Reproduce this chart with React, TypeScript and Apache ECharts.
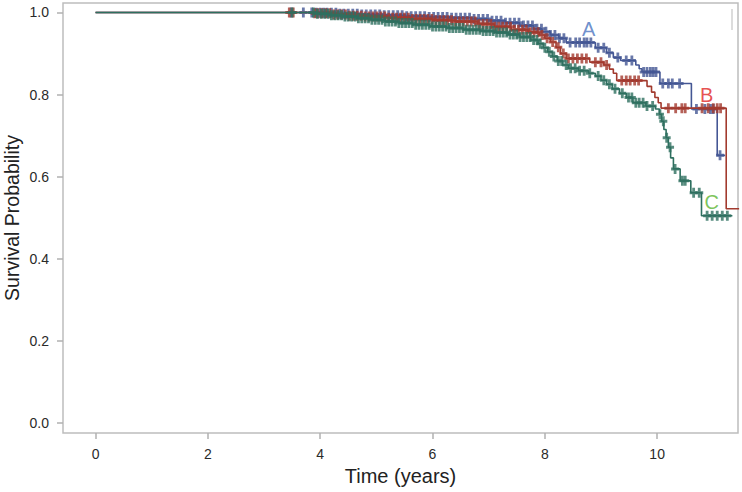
import React, { useEffect, useRef } from "react";
import * as echarts from "echarts";

const timeTicks = [0, 2, 4, 6, 8, 10];
const probTicks = [0, 0.2, 0.4, 0.6, 0.8, 1.0];

const groupNames = ["A", "B", "C"];
const lineColors = ["#445694", "#A23A2E", "#2E6F5F"];
const labelColors = ["#4A74C0", "#E02424", "#5CB531"];

// [time, survival after event]
const eventsA: [number, number][] = [
  [0, 1], [3.9, 0.999], [4.3, 0.997], [4.7, 0.995], [5.1, 0.993], [5.5, 0.991], [5.9, 0.989],
  [6.3, 0.987], [6.7, 0.984], [7.0, 0.98], [7.3, 0.975], [7.55, 0.968], [7.8, 0.96], [7.95, 0.953],
  [8.1, 0.945], [8.25, 0.937], [8.38, 0.927], [8.9, 0.914], [9.1, 0.902], [9.22, 0.89], [9.35, 0.883],
  [9.62, 0.872], [9.68, 0.863], [9.73, 0.855], [10.05, 0.827], [10.61, 0.765], [11.07, 0.652],
];
const endA = 11.21;
const censorA = [
  3.48, 3.7, 3.85, 3.93, 4.0, 4.06, 4.12, 4.2, 4.28, 4.35, 4.42, 4.5, 4.58, 4.66, 4.74, 4.82, 4.9,
  4.98, 5.06, 5.14, 5.22, 5.3, 5.38, 5.46, 5.54, 5.62, 5.7, 5.78, 5.86, 5.94, 6.02, 6.1, 6.18, 6.26,
  6.34, 6.42, 6.5, 6.58, 6.66, 6.74, 6.82, 6.9, 6.98, 7.06, 7.14, 7.22, 7.3, 7.38, 7.46, 7.54, 7.62,
  7.7, 7.78, 7.86, 7.94, 8.02, 8.1, 8.18, 8.26, 8.34, 8.45, 8.55, 8.62, 8.7, 8.75, 8.82, 8.95, 9.05,
  9.15, 9.3, 9.45, 9.55, 9.76, 9.82, 9.88, 9.93, 9.98, 10.1, 10.2, 10.27, 10.4, 10.7, 10.85, 10.95,
  11.0, 11.12,
];

const eventsB: [number, number][] = [
  [0, 1], [3.9, 0.998], [4.2, 0.995], [4.5, 0.992], [4.8, 0.99], [5.2, 0.987], [5.6, 0.984],
  [6.0, 0.981], [6.4, 0.978], [6.8, 0.972], [7.1, 0.965], [7.4, 0.958], [7.7, 0.952], [7.9, 0.945],
  [8.0, 0.937], [8.1, 0.928], [8.2, 0.915], [8.28, 0.9], [8.38, 0.888], [8.8, 0.879], [9.05, 0.872],
  [9.15, 0.862], [9.22, 0.852], [9.28, 0.834], [9.82, 0.82], [9.9, 0.806], [9.96, 0.793],
  [10.02, 0.78], [10.07, 0.767], [11.23, 0.522],
];
const endB = 11.46;
const censorB = [
  3.45, 3.52, 3.9, 3.96, 4.03, 4.1, 4.17, 4.24, 4.31, 4.38, 4.45, 4.52, 4.59, 4.66, 4.73, 4.8, 4.87,
  4.94, 5.01, 5.08, 5.15, 5.22, 5.29, 5.36, 5.43, 5.5, 5.57, 5.64, 5.71, 5.78, 5.85, 5.92, 5.99, 6.06,
  6.13, 6.2, 6.27, 6.34, 6.41, 6.48, 6.55, 6.62, 6.69, 6.76, 6.83, 6.9, 6.97, 7.04, 7.11, 7.18, 7.25,
  7.32, 7.39, 7.46, 7.53, 7.6, 7.67, 7.74, 7.81, 7.88, 7.95, 8.04, 8.14, 8.24, 8.33, 8.42, 8.5, 8.58,
  8.66, 8.74, 8.9, 9.0, 9.1, 9.37, 9.45, 9.52, 9.6, 9.67, 10.2, 10.33, 10.44, 10.5, 10.8, 10.91, 11.0,
  11.07, 11.13,
];

const eventsC: [number, number][] = [
  [0, 1], [3.9, 0.997], [4.15, 0.993], [4.4, 0.99], [4.65, 0.986], [4.9, 0.982], [5.15, 0.978],
  [5.4, 0.974], [5.65, 0.97], [5.95, 0.966], [6.25, 0.962], [6.55, 0.958], [6.85, 0.955], [7.1, 0.951],
  [7.35, 0.946], [7.55, 0.94], [7.75, 0.933], [7.88, 0.924], [7.97, 0.914], [8.05, 0.904], [8.13, 0.893],
  [8.22, 0.882], [8.32, 0.872], [8.42, 0.864], [8.6, 0.858], [8.78, 0.852], [8.9, 0.845], [9.0, 0.835],
  [9.1, 0.825], [9.2, 0.814], [9.33, 0.803], [9.45, 0.793], [9.57, 0.78], [9.8, 0.772], [9.97, 0.765],
  [10.04, 0.752], [10.08, 0.735], [10.12, 0.715], [10.16, 0.695], [10.2, 0.672], [10.24, 0.646],
  [10.29, 0.619], [10.41, 0.59], [10.6, 0.561], [10.79, 0.505],
];
const endC = 11.34;
const censorC = [
  3.5, 3.88, 3.95, 4.02, 4.08, 4.14, 4.2, 4.26, 4.32, 4.38, 4.44, 4.5, 4.56, 4.62, 4.68, 4.74, 4.8,
  4.86, 4.92, 4.98, 5.04, 5.1, 5.16, 5.22, 5.28, 5.34, 5.4, 5.46, 5.52, 5.58, 5.64, 5.7, 5.76, 5.82,
  5.88, 5.94, 6.0, 6.06, 6.12, 6.18, 6.24, 6.3, 6.36, 6.42, 6.48, 6.54, 6.6, 6.66, 6.72, 6.78, 6.84,
  6.9, 6.96, 7.02, 7.08, 7.14, 7.2, 7.26, 7.32, 7.38, 7.44, 7.5, 7.56, 7.62, 7.68, 7.74, 7.8, 7.86,
  7.92, 8.0, 8.08, 8.16, 8.24, 8.3, 8.38, 8.46, 8.54, 8.62, 8.7, 8.8, 8.95, 9.05, 9.15, 9.25, 9.38,
  9.49, 9.55, 9.62, 9.68, 9.75, 9.82, 9.92, 10.05, 10.11, 10.17, 10.23, 10.32, 10.45, 10.5, 10.65,
  10.75, 10.89, 10.98, 11.07, 11.16, 11.25,
];

// label anchors (time, survival)
const labelPos: [number, number][] = [
  [8.78, 0.96],
  [10.88, 0.80],
  [10.97, 0.538],
];

const allEvents = [eventsA, eventsB, eventsC];
const allEnds = [endA, endB, endC];
const allCensors = [censorA, censorB, censorC];

function survivalAt(events: [number, number][], t: number): number {
  let s = 1;
  for (const [et, es] of events) {
    if (et <= t) s = es;
    else break;
  }
  return s;
}

const plusPath = "path://M2.6,0H5.4V2.8H8V5.2H5.4V8H2.6V5.2H0V2.8H2.6Z";
const font = "'Liberation Sans', Arial, sans-serif";

export default function App() {
  const ref = useRef<HTMLDivElement>(null);
  useEffect(() => {
    if (!ref.current) return;
    const chart = echarts.init(ref.current, undefined, { renderer: "svg" });
    const series: any[] = [];
    groupNames.forEach((name, i) => {
      const ev = allEvents[i];
      const lineData = [...ev.map((e) => [e[0], e[1]]), [allEnds[i], ev[ev.length - 1][1]]];
      series.push({
        type: "line",
        name,
        step: "end",
        data: lineData,
        showSymbol: false,
        symbol: "none",
        lineStyle: { color: lineColors[i], width: 1.6 },
        z: 2 + i,
      });
      series.push({
        type: "scatter",
        name: name + " censored",
        data: allCensors[i].map((t) => [t, survivalAt(ev, t)]),
        symbol: plusPath,
        symbolSize: [8, 10],
        itemStyle: { color: lineColors[i] },
        z: 2 + i,
      });
    });
    series.push({
      type: "scatter",
      name: "labels",
      data: labelPos.map((p, i) => ({
        value: p,
        label: {
          show: true,
          formatter: groupNames[i],
          position: "inside",
          color: labelColors[i],
          fontSize: 20,
          fontFamily: font,
        },
      })),
      symbolSize: 1,
      itemStyle: { color: "rgba(0,0,0,0)" },
      z: 10,
    });

    chart.setOption({
      animation: false,
      backgroundColor: "#ffffff",
      grid: {
        left: 63,
        right: 4,
        top: 3,
        bottom: 59,
        show: true,
        borderColor: "#bdbdbd",
        borderWidth: 1.5,
        backgroundColor: "#ffffff",
        containLabel: false,
        outerBoundsMode: "none",
      },
      xAxis: {
        type: "value",
        min: -0.58,
        max: 11.44,
        name: "Time (years)",
        nameLocation: "middle",
        nameGap: 24,
        nameTextStyle: { fontSize: 20, color: "#222", fontFamily: font },
        splitLine: { show: false },
        axisLine: { show: false, onZero: false },
        axisTick: {
          show: true,
          length: 6,
          lineStyle: { color: "#b0b0b0", width: 1.5 },
          customValues: timeTicks,
        },
        axisLabel: {
          customValues: timeTicks,
          margin: 14,
          fontSize: 14,
          color: "#2a2a2a",
          fontFamily: font,
        },
      },
      yAxis: {
        type: "value",
        min: -0.024,
        max: 1.023,
        name: "Survival Probability",
        nameLocation: "middle",
        nameGap: 41,
        nameMoveOverlap: false,
        nameTextStyle: { fontSize: 19.5, lineHeight: 20, color: "#222", fontFamily: font },
        splitLine: { show: false },
        axisLine: { show: false, onZero: false },
        axisTick: {
          show: true,
          length: 6,
          lineStyle: { color: "#b0b0b0", width: 1.5 },
          customValues: probTicks,
        },
        axisLabel: {
          customValues: probTicks,
          margin: 14,
          fontSize: 14,
          color: "#2a2a2a",
          fontFamily: font,
          formatter: (v: number) => v.toFixed(1),
        },
      },
      graphic: [
        {
          type: "line",
          shape: { x1: 732, y1: 9, x2: 732, y2: 30 },
          style: { stroke: "#dcdcdc", lineWidth: 2 },
          silent: true,
        },
      ],
      series,
    });
    return () => chart.dispose();
  }, []);
  return (
    <div
      ref={ref}
      style={{ position: "absolute", left: 0, top: 0, width: 742, height: 492 }}
    />
  );
}
